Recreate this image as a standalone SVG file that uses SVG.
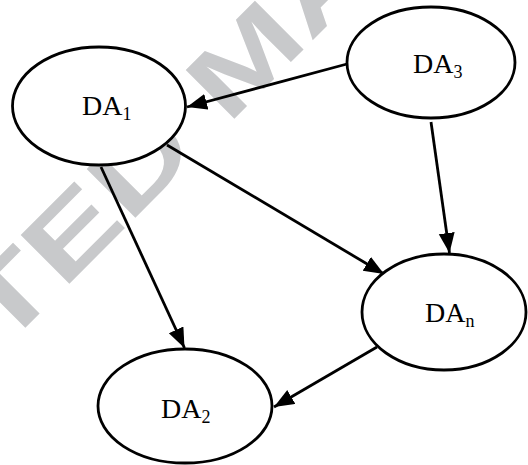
<svg xmlns="http://www.w3.org/2000/svg" width="528" height="465" viewBox="0 0 528 465">
<style>
.node ellipse{fill:#fff;stroke:#000;stroke-width:2.8}
.node text{font-family:"Liberation Serif","Times New Roman",serif;font-size:28px;fill:#000}
.sub{font-size:18px}
.edge{stroke:#000;stroke-width:2.8;fill:none;marker-end:url(#ah)}
.wm{font-family:"Liberation Sans",Arial,sans-serif;font-weight:bold;font-size:100px;fill:#c8c9cb}
</style>
<defs>
<marker id="ah" markerUnits="userSpaceOnUse" markerWidth="21" markerHeight="17" refX="20" refY="8" orient="auto">
<path d="M0,0 L20,8 L0,16 z" fill="#000"/>
</marker>
</defs>
<rect width="528" height="465" fill="#fff"/>
<text class="wm" transform="translate(2.3,350.7) rotate(-45) scale(1.4,1)">TED MA</text>
<g id="connectors">
<line class="edge" x1="347" y1="64" x2="187" y2="107"/>
<line class="edge" x1="431" y1="122" x2="449.5" y2="253"/>
<line class="edge" x1="167" y1="145" x2="384" y2="274"/>
<line class="edge" x1="101" y1="167" x2="184.5" y2="348"/>
<line class="edge" x1="377" y1="347" x2="274" y2="407"/>
</g>
<g id="DA1" class="node">
<ellipse cx="99" cy="106" rx="86.5" ry="59"/>
<text x="82" y="115">DA<tspan class="sub" dy="5">1</tspan></text>
</g>
<g id="DA3" class="node">
<ellipse cx="431" cy="62.5" rx="84" ry="55.5"/>
<text x="413" y="73">DA<tspan class="sub" dy="5">3</tspan></text>
</g>
<g id="DAn" class="node">
<ellipse cx="444" cy="312" rx="82" ry="58"/>
<text x="425" y="322">DA<tspan class="sub" dy="5">n</tspan></text>
</g>
<g id="DA2" class="node">
<ellipse cx="185" cy="406" rx="87" ry="57"/>
<text x="161" y="418">DA<tspan class="sub" dy="5">2</tspan></text>
</g>
</svg>
